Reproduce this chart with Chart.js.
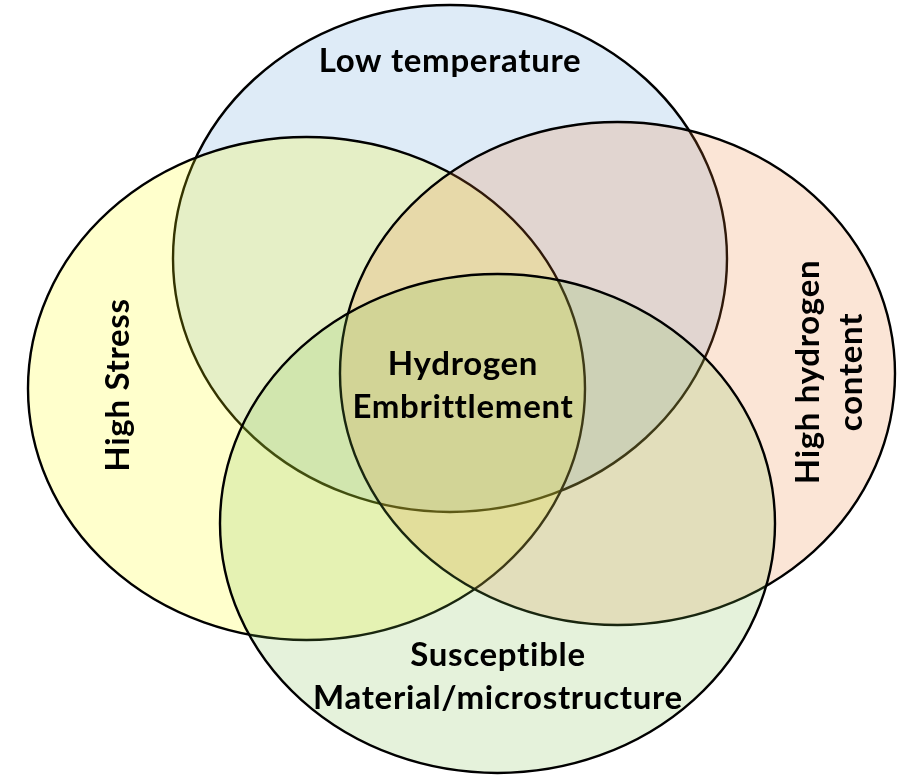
<!DOCTYPE html>
<html>
<head>
<meta charset="utf-8">
<script src="https://cdn.jsdelivr.net/npm/chart.js@4/dist/chart.umd.min.js"></script>
<style>
  html, body { margin: 0; padding: 0; background: #ffffff; }
  #wrap { width: 907px; height: 776px; }
</style>
</head>
<body>
<div id="wrap"><canvas id="c" width="907" height="776"></canvas></div>
<script>
// ---- Data (diagram units: x 0..907, y 0..776 from top) ----
const setNames   = ['Low temperature', 'High Stress', 'High hydrogen content', 'Susceptible Material/microstructure'];
const centerX    = [450, 306.5, 617.5, 497.5];
const centerY    = [258.5, 388.5, 373.5, 523.5];
const radiusX    = [277, 278.5, 277.5, 277.5];
const radiusY    = [253.5, 251.5, 251.5, 249.5];
const centerText = ['Hydrogen', 'Embrittlement'];

// ---- Styles ----
const fillColors = ['rgba(91,155,213,0.2)', 'rgba(255,255,0,0.2)', 'rgba(237,125,49,0.2)', 'rgba(125,192,75,0.2)'];
const FONT = '"Lato", "Carlito", "Liberation Sans", sans-serif';

// label layout: [lines], x, y (diagram units), rotation
const labelLayout = [
  { lines: ['Low temperature'], x: 450, y: 61, rot: 0 },
  { lines: ['High Stress'], x: 118, y: 385, rot: -Math.PI / 2 },
  { lines: ['High hydrogen', 'content'], x: 830, y: 372, rot: -Math.PI / 2 },
  { lines: ['Susceptible', 'Material/microstructure'], x: 498, y: 677, rot: 0 }
];
const centerLayout = { x: 463, y: 386 };
const LINE_H = 43;

const vennPlugin = {
  id: 'venn',
  beforeDatasetsDraw(chart) {
    const ctx = chart.ctx, xs = chart.scales.x, ys = chart.scales.y;
    chart.data.datasets.forEach((ds, i) => {
      const p = ds.data[0];
      const px = xs.getPixelForValue(p.x), py = ys.getPixelForValue(p.y);
      const rx = Math.abs(xs.getPixelForValue(p.x + p.rx) - px);
      const ry = Math.abs(ys.getPixelForValue(p.y + p.ry) - py);
      ctx.save();
      ctx.beginPath();
      ctx.ellipse(px, py, rx, ry, 0, 0, Math.PI * 2);
      ctx.fillStyle = ds.backgroundColor;
      ctx.fill();
      ctx.lineWidth = 2.4;
      ctx.strokeStyle = '#000000';
      ctx.stroke();
      ctx.restore();
    });
  },
  afterDatasetsDraw(chart) {
    const ctx = chart.ctx, xs = chart.scales.x, ys = chart.scales.y;
    const drawBlock = (lines, x, y, rot) => {
      ctx.save();
      ctx.translate(xs.getPixelForValue(x), ys.getPixelForValue(y));
      ctx.rotate(rot);
      ctx.font = 'bold 33px ' + FONT;
      if ('letterSpacing' in ctx) ctx.letterSpacing = '0.7px';
      ctx.fillStyle = '#000000';
      ctx.textAlign = 'center';
      ctx.textBaseline = 'middle';
      const n = lines.length;
      lines.forEach((t, k) => ctx.fillText(t, 0, (k - (n - 1) / 2) * LINE_H));
      ctx.restore();
    };
    labelLayout.forEach(l => drawBlock(l.lines, l.x, l.y, l.rot));
    drawBlock(centerText, centerLayout.x, centerLayout.y, 0);
  }
};

new Chart(document.getElementById('c'), {
  type: 'scatter',
  data: {
    datasets: setNames.map((name, i) => ({
      label: name,
      data: [{ x: centerX[i], y: centerY[i], rx: radiusX[i], ry: radiusY[i] }],
      backgroundColor: fillColors[i],
      pointRadius: 0,
      pointHoverRadius: 0
    }))
  },
  options: {
    responsive: false,
    animation: false,
    layout: { padding: 0 },
    events: [],
    plugins: { legend: { display: false }, tooltip: { enabled: false } },
    scales: {
      x: { type: 'linear', min: 0, max: 907, display: false },
      y: { type: 'linear', min: 0, max: 776, reverse: true, display: false }
    }
  },
  plugins: [vennPlugin]
});
</script>
</body>
</html>
